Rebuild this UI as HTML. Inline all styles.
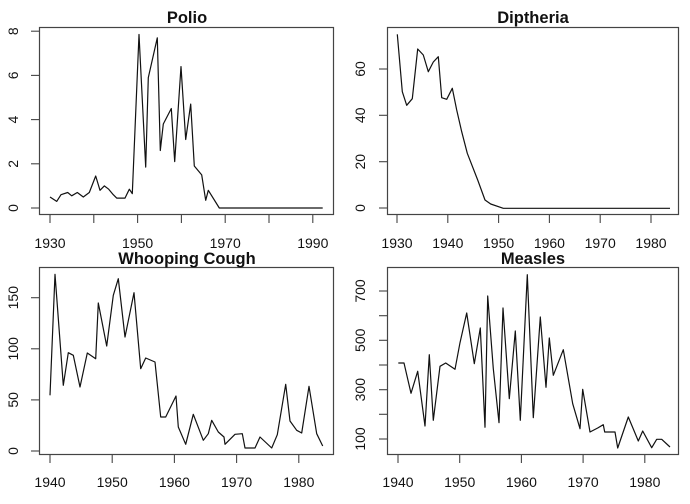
<!DOCTYPE html>
<html><head><meta charset="utf-8"><style>
html,body{margin:0;padding:0;background:#fff}
svg{display:block}
text{font-family:"Liberation Sans",sans-serif;fill:#111}
.t{font-size:16.5px;font-weight:bold;text-anchor:middle}
.xl{font-size:14px;text-anchor:middle}
.yl{font-size:14px;text-anchor:middle}
.box{fill:none;stroke:#444;stroke-width:1.2}
.tk{stroke:#444;stroke-width:1.1}
.ln{fill:none;stroke:#111;stroke-width:1.2;stroke-linejoin:round}
</style></head><body>
<svg width="690" height="504" viewBox="0 0 690 504" xmlns="http://www.w3.org/2000/svg">
<!-- Panel 1 Polio -->
<rect class="box" x="39.5" y="27.5" width="294" height="187"/>
<text class="t" x="187" y="23">Polio</text>
<g class="tk">
<line x1="50" y1="214" x2="50" y2="223"/><line x1="93.8" y1="214" x2="93.8" y2="223"/><line x1="137.6" y1="214" x2="137.6" y2="223"/><line x1="181.4" y1="214" x2="181.4" y2="223"/><line x1="225.2" y1="214" x2="225.2" y2="223"/><line x1="269" y1="214" x2="269" y2="223"/><line x1="312.8" y1="214" x2="312.8" y2="223"/>
<line x1="31" y1="208" x2="39" y2="208"/><line x1="31" y1="163.8" x2="39" y2="163.8"/><line x1="31" y1="119.6" x2="39" y2="119.6"/><line x1="31" y1="75.4" x2="39" y2="75.4"/><line x1="31" y1="31.2" x2="39" y2="31.2"/>
</g>
<text class="xl" x="50" y="248">1930</text><text class="xl" x="137.6" y="248">1950</text><text class="xl" x="225.2" y="248">1970</text><text class="xl" x="312.8" y="248">1990</text>
<text class="yl" transform="translate(18,208) rotate(-90)">0</text>
<text class="yl" transform="translate(18,163.8) rotate(-90)">2</text>
<text class="yl" transform="translate(18,119.6) rotate(-90)">4</text>
<text class="yl" transform="translate(18,75.4) rotate(-90)">6</text>
<text class="yl" transform="translate(18,31.2) rotate(-90)">8</text>
<polyline class="ln" points="50,197 56.7,201.4 61,194.7 67.7,192.5 71.7,195.8 77.3,192.5 83.3,197 89.3,192.5 95.7,176 100,190.3 104.3,185.9 108.7,189.2 113.3,194.7 116.7,198.1 125,198.1 129.3,189.2 132.3,193.6 139,34.5 145.7,167.1 148.3,77.6 157.3,37.8 160.3,150.5 163.3,124 171.3,108.5 174.7,161.6 181,66.6 185.7,139.5 190.7,104.1 194.3,166 201.7,174.9 205.7,200.3 208.3,190.3 219.3,208 322.7,208"/>

<!-- Panel 2 Diptheria -->
<rect class="box" x="387.5" y="27.5" width="291" height="187"/>
<text class="t" x="533" y="23">Diptheria</text>
<g class="tk">
<line x1="397" y1="214" x2="397" y2="223"/><line x1="447.8" y1="214" x2="447.8" y2="223"/><line x1="498.6" y1="214" x2="498.6" y2="223"/><line x1="549.4" y1="214" x2="549.4" y2="223"/><line x1="600.2" y1="214" x2="600.2" y2="223"/><line x1="651" y1="214" x2="651" y2="223"/>
<line x1="379" y1="208" x2="387" y2="208"/><line x1="379" y1="161.7" x2="387" y2="161.7"/><line x1="379" y1="115.3" x2="387" y2="115.3"/><line x1="379" y1="69" x2="387" y2="69"/>
</g>
<text class="xl" x="397" y="248">1930</text><text class="xl" x="447.8" y="248">1940</text><text class="xl" x="498.6" y="248">1950</text><text class="xl" x="549.4" y="248">1960</text><text class="xl" x="600.2" y="248">1970</text><text class="xl" x="651" y="248">1980</text>
<text class="yl" transform="translate(365,208) rotate(-90)">0</text>
<text class="yl" transform="translate(365,161.7) rotate(-90)">20</text>
<text class="yl" transform="translate(365,115.3) rotate(-90)">40</text>
<text class="yl" transform="translate(365,69) rotate(-90)">60</text>
<polyline class="ln" points="397.3,34.3 402.3,91.7 406.7,105.3 412.3,98.7 417.7,49 423.3,55 428.3,71.7 433.3,62 438.3,56.7 441.7,97.7 446.7,99.3 452.3,88.3 456.7,110 461.7,131.7 467.3,153.3 477.7,180 485,200 490.7,204 503.3,208.3 670,208.3"/>

<!-- Panel 3 Whooping Cough -->
<rect class="box" x="39.5" y="267.5" width="294" height="187"/>
<text class="t" x="187" y="264">Whooping Cough</text>
<g class="tk">
<line x1="50" y1="454" x2="50" y2="463"/><line x1="112.2" y1="454" x2="112.2" y2="463"/><line x1="174.4" y1="454" x2="174.4" y2="463"/><line x1="236.6" y1="454" x2="236.6" y2="463"/><line x1="298.8" y1="454" x2="298.8" y2="463"/>
<line x1="31" y1="451" x2="39" y2="451"/><line x1="31" y1="399.9" x2="39" y2="399.9"/><line x1="31" y1="348.8" x2="39" y2="348.8"/><line x1="31" y1="297.7" x2="39" y2="297.7"/>
</g>
<text class="xl" x="50" y="487">1940</text><text class="xl" x="112.2" y="487">1950</text><text class="xl" x="174.4" y="487">1960</text><text class="xl" x="236.6" y="487">1970</text><text class="xl" x="298.8" y="487">1980</text>
<text class="yl" transform="translate(18,451) rotate(-90)">0</text>
<text class="yl" transform="translate(18,399.9) rotate(-90)">50</text>
<text class="yl" transform="translate(18,348.8) rotate(-90)">100</text>
<text class="yl" transform="translate(18,297.7) rotate(-90)">150</text>
<polyline class="ln" points="50,395.3 55,274.3 63.3,385.3 68.3,352.7 73.3,355.3 80,387 87.3,353 95.7,358.7 98.3,303 106.7,346 113.3,295.3 118.3,278.7 125,337 134,292.7 140.7,368.7 145.7,358 155,362 160.7,417 165.7,417 176,396 178.3,427 185.7,444.3 193.3,414.3 203.3,440.3 208.3,433.7 211.7,420.3 218.3,432 224,437 225,444.3 235,434.3 242.3,433.7 245,448 255,448 260,437 271.7,448 277.3,434.7 285.7,384.3 290,421 296.7,430.3 301.7,433 309,386.3 316.7,433.7 322.7,446"/>

<!-- Panel 4 Measles -->
<rect class="box" x="387.5" y="267.5" width="291" height="187"/>
<text class="t" x="533" y="264">Measles</text>
<g class="tk">
<line x1="398" y1="454" x2="398" y2="463"/><line x1="459.7" y1="454" x2="459.7" y2="463"/><line x1="521.4" y1="454" x2="521.4" y2="463"/><line x1="583.1" y1="454" x2="583.1" y2="463"/><line x1="644.8" y1="454" x2="644.8" y2="463"/>
<line x1="379" y1="439" x2="387" y2="439"/><line x1="379" y1="414.3" x2="387" y2="414.3"/><line x1="379" y1="389.7" x2="387" y2="389.7"/><line x1="379" y1="365" x2="387" y2="365"/><line x1="379" y1="340.3" x2="387" y2="340.3"/><line x1="379" y1="315.7" x2="387" y2="315.7"/><line x1="379" y1="291" x2="387" y2="291"/>
</g>
<text class="xl" x="398" y="487">1940</text><text class="xl" x="459.7" y="487">1950</text><text class="xl" x="521.4" y="487">1960</text><text class="xl" x="583.1" y="487">1970</text><text class="xl" x="644.8" y="487">1980</text>
<text class="yl" transform="translate(365,439) rotate(-90)">100</text>
<text class="yl" transform="translate(365,389.7) rotate(-90)">300</text>
<text class="yl" transform="translate(365,340.3) rotate(-90)">500</text>
<text class="yl" transform="translate(365,291) rotate(-90)">700</text>
<polyline class="ln" points="398.3,363 404,363 411,393.3 417.7,371.3 425,426 429.3,354.7 433.3,420.3 440,366.3 445.7,363 455,369.3 460,342.7 466.7,313 474.3,363.7 480.3,328 485,427.3 487.7,296 493.3,368.7 499,422.7 503,308 509.3,398.7 515.3,331 520.3,420.3 527.3,274.7 533.3,417.7 540.3,317 546,387.3 549.3,338 553.3,375.3 563.3,349.7 572.7,403.7 580,428.7 582.7,389.3 590,432 597.7,428 603.3,424.7 604.7,432 615,432 617.7,448 628.3,417 638.3,441 642.7,431 651.7,447.7 656.7,439.3 661.7,439.3 670,447"/>
</svg>
</body></html>
